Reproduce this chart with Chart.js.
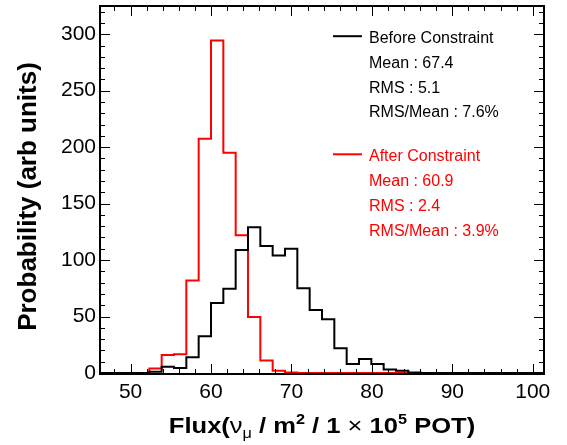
<!DOCTYPE html>
<html><head><meta charset="utf-8">
<script src="https://cdn.jsdelivr.net/npm/chart.js@4.4.1/dist/chart.umd.min.js"></script>
<style>html,body{margin:0;padding:0;background:#fff}</style>
</head><body>
<canvas id="c" width="567" height="445"></canvas>
<script>
// ---- data ----
const binLow = 46.2;
const binWidth = 1.5333;
const beforeValues = [0,0,0,0,1,5.5,4.5,14,32.5,62,74.5,109,129,112.5,104,110,75,55.7,47.5,22,8,12.5,8,3,2,0.5,0,0,0,0,0,0,0,0,0,0];
const afterValues  = [0,0,0,0,4,16,16.5,82,207.5,294.5,195,122,49.5,11,2,0.5,0,0,0,0,0,0,0,0,0,0,0,0,0,0,0,0,0,0,0];
const xTickLabels = [50,60,70,80,90,100];
const yTickLabels = [0,50,100,150,200,250,300];
const yMax = 325;
const legendBefore = ['Before Constraint','Mean : 67.4','RMS : 5.1','RMS/Mean : 7.6%'];
const legendAfter  = ['After Constraint','Mean : 60.9','RMS : 2.4','RMS/Mean : 3.9%'];

const FONT = '"Liberation Sans", Arial, Helvetica, sans-serif';

function toSteps(vals){
  const pts = vals.map((v,i)=>({x: binLow + i*binWidth, y: v}));
  pts.push({x: binLow + vals.length*binWidth, y: vals[vals.length-1]});
  return pts;
}

const framePlugin = {
  id: 'rootFrame',
  afterDatasetsDraw(chart){
    const ctx = chart.ctx;
    const a = chart.chartArea;
    const x = chart.scales.x, y = chart.scales.y;
    const L = Math.round(a.left), R = Math.round(a.right), T = Math.round(a.top), B = Math.round(a.bottom) + 1;
    ctx.save();
    ctx.strokeStyle = '#000000';
    ctx.lineWidth = 1;
    ctx.beginPath();
    for (let v = 48; v <= 100; v += 2) {
      const px = Math.round(x.getPixelForValue(v)) + 0.5;
      const len = (v % 10 === 0) ? 10 : 5;
      ctx.moveTo(px, B); ctx.lineTo(px, B - len);
      ctx.moveTo(px, T); ctx.lineTo(px, T + len);
    }
    for (let v = 0; v <= 320; v += 10) {
      const py = Math.round(y.getPixelForValue(v)) + 0.5;
      const len = (v % 50 === 0) ? 10 : 5;
      ctx.moveTo(L, py); ctx.lineTo(L + len, py);
      ctx.moveTo(R, py); ctx.lineTo(R - len, py);
    }
    ctx.stroke();
    ctx.lineWidth = 2;
    ctx.beginPath();
    ctx.rect(L, T, R - L, B - T);
    ctx.stroke();
    ctx.restore();
  },
  afterDraw(chart){
    const ctx = chart.ctx;
    ctx.save();
    ctx.textBaseline = 'alphabetic';
    ctx.textAlign = 'left';
    ctx.font = '16px ' + FONT;
    const drawBlock = (lines, color, y0) => {
      ctx.fillStyle = color; ctx.strokeStyle = color; ctx.lineWidth = 2;
      ctx.beginPath(); ctx.moveTo(333, y0 - 6.5); ctx.lineTo(362, y0 - 6.5); ctx.stroke();
      lines.forEach((t,i)=> ctx.fillText(t, 369, y0 + i*24.9));
    };
    drawBlock(legendBefore, '#000', 42.7);
    drawBlock(legendAfter, '#ff0000', 160.8);

    ctx.fillStyle = '#000';
    ctx.save();
    ctx.translate(36, 196.5);
    ctx.rotate(-Math.PI/2);
    ctx.textAlign = 'center';
    ctx.font = 'bold 26px ' + FONT;
    ctx.fillText('Probability (arb units)', 0, 0);
    ctx.restore();

    const big = 22, small = 14;
    const parts = [
      {t:'Flux(', f:'bold '+big+'px '+FONT, dy:0},
      {t:'\u03BD', f:big+'px '+FONT, dy:0},
      {t:'\u03BC', f:small+'px '+FONT, dy:5},
      {t:' / m', f:'bold '+big+'px '+FONT, dy:0},
      {t:'2', f:'bold '+small+'px '+FONT, dy:-9},
      {t:' / 1 ', f:'bold '+big+'px '+FONT, dy:0},
      {t:'\u00D7', f:big+'px '+FONT, dy:0},
      {t:' 10', f:'bold '+big+'px '+FONT, dy:0},
      {t:'5', f:'bold '+small+'px '+FONT, dy:-9},
      {t:' POT)', f:'bold '+big+'px '+FONT, dy:0}
    ];
    let total = 0;
    parts.forEach(p=>{ ctx.font = p.f; p.w = ctx.measureText(p.t).width; total += p.w; });
    const sx = 311 / total * 0.985;
    ctx.save();
    ctx.translate(322, 433);
    ctx.scale(sx, 1);
    let cx = -total/2;
    ctx.textAlign = 'left';
    parts.forEach(p=>{ ctx.font = p.f; ctx.fillText(p.t, cx, p.dy); cx += p.w; });
    ctx.restore();
    ctx.restore();
  }
};

new Chart(document.getElementById('c'), {
  type: 'line',
  data: {
    datasets: [
      {label: legendBefore[0], data: toSteps(beforeValues), borderColor: '#000', borderWidth: 2, stepped: true, pointRadius: 0, fill: false},
      {label: legendAfter[0], data: toSteps(afterValues), borderColor: '#ff0000', borderWidth: 2, stepped: true, pointRadius: 0, fill: false}
    ]
  },
  options: {
    responsive: false,
    animation: false,
    devicePixelRatio: 1,
    layout: {padding: {top: 6, right: 23, left: 0, bottom: 0}},
    plugins: {legend: {display: false}, tooltip: {enabled: false}},
    scales: {
      x: {
        type: 'linear', min: binLow, max: binLow + beforeValues.length*binWidth,
        grid: {display: false}, border: {display: false},
        afterBuildTicks: s => { s.ticks = xTickLabels.map(v=>({value:v})); },
        afterFit: s => { s.height = 72; s.paddingLeft = 0; s.paddingRight = 0; },
        ticks: {autoSkip: false, maxRotation: 0, padding: -1, color: '#000', font: {family: FONT, size: 21}}
      },
      y: {
        type: 'linear', min: 0, max: yMax,
        grid: {display: false}, border: {display: false},
        afterBuildTicks: s => { s.ticks = yTickLabels.map(v=>({value:v})); },
        afterFit: s => { s.width = 100; s.paddingTop = 0; s.paddingBottom = 0; },
        ticks: {autoSkip: false, padding: -4, color: '#000', font: {family: FONT, size: 21}}
      }
    }
  },
  plugins: [framePlugin]
});
</script>
</body></html>
